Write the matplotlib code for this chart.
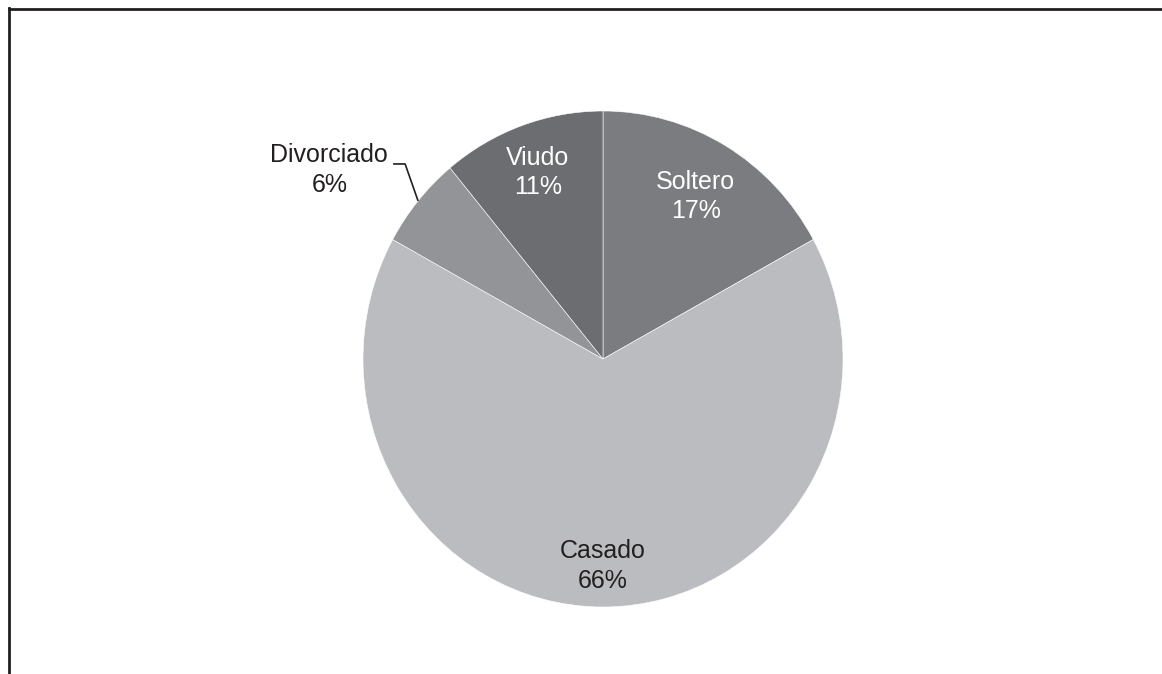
import numpy as np
import matplotlib.pyplot as plt
from matplotlib.lines import Line2D

# estado civil
categories = ["Soltero", "Casado", "Divorciado", "Viudo"]
shares = [17, 66, 6, 11]
colors = ["#7b7c80", "#bbbcc0", "#939498", "#6c6d71"]
text_colors = ["white", "#231f20", "#231f20", "white"]

W, H = 1162, 674


def main():
    plt.rcParams["font.family"] = ["Liberation Sans", "DejaVu Sans"]
    fig = plt.figure(figsize=(W / 100, H / 100), dpi=100)
    fig.patch.set_facecolor("white")

    # pie is slightly taller than wide
    ax = fig.add_axes([363 / W, (H - 607) / H, 480 / W, 496 / H])
    wedges, _ = ax.pie(
        shares,
        colors=colors,
        startangle=90,
        counterclock=False,
        wedgeprops=dict(edgecolor="white", linewidth=0.4),
    )
    ax.set_aspect("auto")
    ax.set_xlim(-1, 1)
    ax.set_ylim(-1, 1)

    label_dist = {"Soltero": 0.76, "Casado": 0.835, "Viudo": 0.80}
    total = sum(shares)
    for w, name, val, tc in zip(wedges, categories, shares, text_colors):
        mid = np.deg2rad((w.theta1 + w.theta2) / 2)
        text = f"{name}\n{round(100 * val / total)}%"
        if name in label_dist:
            r = label_dist[name]
            ax.text(r * np.cos(mid), r * np.sin(mid), text, ha="center",
                    va="center", fontsize=18, color=tc, linespacing=1.28)
        else:
            # outside label with leader line
            ex, ey = np.cos(mid), np.sin(mid)
            tx, ty = ex - 0.37, ey + 0.125
            ax.text(tx, ty, text, ha="center", va="center", fontsize=18,
                    color=tc, linespacing=1.28, clip_on=False)
            ax.plot([ex, ex - 0.054, ex - 0.104], [ey, ey + 0.149, ey + 0.149],
                    color="#231f20", lw=1.2, clip_on=False,
                    solid_capstyle="butt")

    # frame: top and left edges only
    fig.add_artist(Line2D([9 / W, 1], [1 - 9 / H] * 2, color="#231f20", lw=2,
                          transform=fig.transFigure))
    fig.add_artist(Line2D([9 / W] * 2, [0, 1 - 8 / H], color="#231f20", lw=2,
                          transform=fig.transFigure))

    fig.savefig("out.png", dpi=100)


if __name__ == "__main__":
    main()
